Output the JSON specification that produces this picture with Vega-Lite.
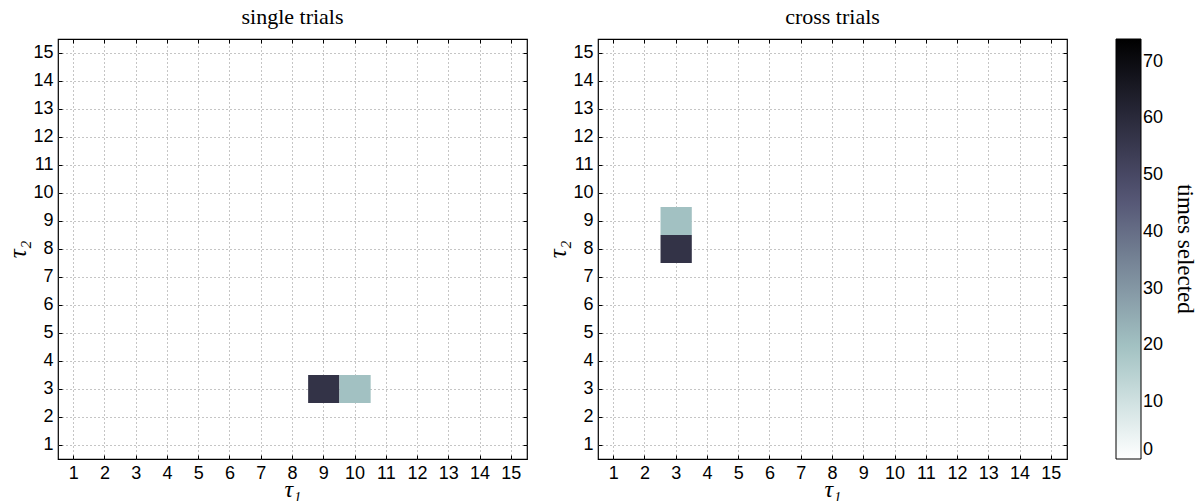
{
  "$schema": "https://vega.github.io/schema/vega-lite/v6.json",
  "padding": {"left": 5, "top": 4, "right": 30, "bottom": 0},
  "datasets": {
    "cells": [
      {"panel": "single trials", "tau1": 9, "tau2": 3, "count": 57},
      {"panel": "single trials", "tau1": 10, "tau2": 3, "count": 20},
      {"panel": "cross trials", "tau1": 3, "tau2": 8, "count": 57},
      {"panel": "cross trials", "tau1": 3, "tau2": 9, "count": 20}
    ]
  },
  "config": {
    "view": {"stroke": "#000000", "strokeWidth": 1.2},
    "font": "Liberation Sans",
    "axis": {
      "domain": false,
      "tickColor": "#000000",
      "tickSize": -4,
      "tickWidth": 1,
      "labelFont": "Liberation Sans",
      "labelFontSize": 18,
      "labelColor": "#000000",
      "labelPadding": 9,
      "grid": true,
      "gridColor": "#8a8a8a",
      "gridDash": [1, 3],
      "gridWidth": 1,
      "zindex": 1,
      "titleFont": "Liberation Serif",
      "titleFontStyle": "italic",
      "titleFontWeight": "normal",
      "titleFontSize": 26,
      "titleColor": "#000000"
    },
    "title": {"font": "Liberation Serif", "fontSize": 22, "fontWeight": "normal", "color": "#000000", "offset": 10},
    "legend": {
      "gradientLength": 420,
      "gradientThickness": 25,
      "gradientStrokeColor": "#000000",
      "gradientStrokeWidth": 1,
      "labelFont": "Liberation Sans",
      "labelFontSize": 18,
      "labelColor": "#000000",
      "labelOffset": 4,
      "titleFont": "Liberation Serif",
      "titleFontSize": 23,
      "titleFontWeight": "normal",
      "titleColor": "#000000",
      "titleOrient": "right",
      "titleAngle": 90,
      "titleAnchor": "middle",
      "titlePadding": 10,
      "offset": 47,
      "padding": 0
    }
  },
  "hconcat": [
    {
      "title": "single trials",
      "width": 469,
      "height": 420,
      "data": {"name": "cells"},
      "transform": [{"filter": "datum.panel === 'single trials'"}],
      "layer": [
        {
          "mark": {"type": "rect"},
          "encoding": {
            "x": {"field": "tau1", "type": "ordinal", "scale": {"domain": [1,2,3,4,5,6,7,8,9,10,11,12,13,14,15], "paddingInner": 0, "paddingOuter": 0}, "axis": {"orient": "bottom", "title": "τ₁", "labelAngle": 0, "labelFontSize": 18, "titleFontSize": 24, "titleBaseline": "alphabetic", "titleY": 37, "bandPosition": 0.5}},
            "y": {"field": "tau2", "type": "ordinal", "scale": {"domain": [15,14,13,12,11,10,9,8,7,6,5,4,3,2,1], "paddingInner": 0, "paddingOuter": 0}, "axis": {"orient": "left", "title": "τ₂", "labelFontSize": 18, "titleFontSize": 25, "titlePadding": 2, "bandPosition": 0.5}},
            "color": {"field": "count", "type": "quantitative", "scale": {"domain": [0, 18.79, 46.98, 74], "range": ["#ffffff", "#a6c6c6", "#515171", "#000000"], "interpolate": "rgb"}, "legend": {"title": "times selected", "values": [0,10,20,30,40,50,60,70], "direction": "vertical", "type": "gradient", "labelFontSize": 18}}
          }
        },
        {
          "mark": {"type": "rect", "opacity": 0},
          "encoding": {
            "x": {"field": "tau1", "type": "ordinal", "axis": {"orient": "top", "labels": false, "title": null, "grid": false, "bandPosition": 0.5}},
            "y": {"field": "tau2", "type": "ordinal", "axis": {"orient": "right", "labels": false, "title": null, "grid": false, "bandPosition": 0.5}}
          }
        }
      ],
      "resolve": {"axis": {"x": "independent", "y": "independent"}}
    },
    {
      "title": "cross trials",
      "width": 469,
      "height": 420,
      "data": {"name": "cells"},
      "transform": [{"filter": "datum.panel === 'cross trials'"}],
      "layer": [
        {
          "mark": {"type": "rect"},
          "encoding": {
            "x": {"field": "tau1", "type": "ordinal", "scale": {"domain": [1,2,3,4,5,6,7,8,9,10,11,12,13,14,15], "paddingInner": 0, "paddingOuter": 0}, "axis": {"orient": "bottom", "title": "τ₁", "labelAngle": 0, "labelFontSize": 18, "titleFontSize": 24, "titleBaseline": "alphabetic", "titleY": 37, "bandPosition": 0.5}},
            "y": {"field": "tau2", "type": "ordinal", "scale": {"domain": [15,14,13,12,11,10,9,8,7,6,5,4,3,2,1], "paddingInner": 0, "paddingOuter": 0}, "axis": {"orient": "left", "title": "τ₂", "labelFontSize": 18, "titleFontSize": 25, "titlePadding": 2, "bandPosition": 0.5}},
            "color": {"field": "count", "type": "quantitative", "scale": {"domain": [0, 18.79, 46.98, 74], "range": ["#ffffff", "#a6c6c6", "#515171", "#000000"], "interpolate": "rgb"}, "legend": {"title": "times selected", "values": [0,10,20,30,40,50,60,70], "direction": "vertical", "type": "gradient", "labelFontSize": 18}}
          }
        },
        {
          "mark": {"type": "rect", "opacity": 0},
          "encoding": {
            "x": {"field": "tau1", "type": "ordinal", "axis": {"orient": "top", "labels": false, "title": null, "grid": false, "bandPosition": 0.5}},
            "y": {"field": "tau2", "type": "ordinal", "axis": {"orient": "right", "labels": false, "title": null, "grid": false, "bandPosition": 0.5}}
          }
        }
      ],
      "resolve": {"axis": {"x": "independent", "y": "independent"}}
    }
  ],
  "spacing": 71,
  "bounds": "flush",
  "resolve": {"scale": {"color": "shared"}}
}
